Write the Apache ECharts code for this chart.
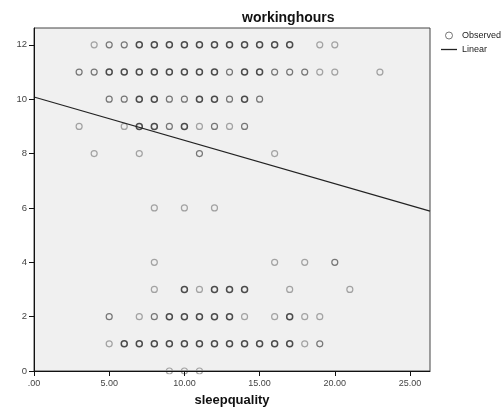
<!DOCTYPE html>
<html>
<head>
<meta charset="utf-8">
<script src="https://cdn.jsdelivr.net/npm/echarts@6/dist/echarts.min.js"></script>
<style>html,body{margin:0;padding:0;background:#fff;}#c{width:504px;height:412px;}</style>
</head>
<body>
<div id="c"></div>
<script>
// sleepquality values observed at each workinghours level, with overlap level (1 = single, 3 = many)
const wh12X = [4,5,6,7,8,9,10,11,12,13,14,15,16,17,19,20];
const wh12N = [1,2,2,3,3,3,3,3,3,3,3,3,3,3,1,1];
const wh11X = [3,4,5,6,7,8,9,10,11,12,13,14,15,16,17,18,19,20,23];
const wh11N = [2,2,3,3,3,3,3,3,3,3,2,3,3,2,2,2,1,1,1];
const wh10X = [5,6,7,8,9,10,11,12,13,14,15];
const wh10N = [2,2,3,3,2,2,3,3,2,3,2];
const wh9X = [3,6,7,8,9,10,11,12,13,14];
const wh9N = [1,1,3,3,2,3,1,2,1,2];
const wh8X = [4,7,11,16];
const wh8N = [1,1,2,1];
const wh6X = [8,10,12];
const wh6N = [1,1,1];
const wh4X = [8,16,18,20];
const wh4N = [1,1,1,2];
const wh3X = [8,10,11,12,13,14,17,21];
const wh3N = [1,3,1,3,3,3,1,1];
const wh2X = [5,7,8,9,10,11,12,13,14,16,17,18,19];
const wh2N = [2,1,2,3,3,3,3,3,1,1,3,1,1];
const wh1X = [5,6,7,8,9,10,11,12,13,14,15,16,17,18,19];
const wh1N = [1,3,3,3,3,3,3,3,3,3,3,3,3,1,2];
const wh0X = [9,10,11];
const wh0N = [1,1,1];

const rows = [
  [12, wh12X, wh12N], [11, wh11X, wh11N], [10, wh10X, wh10N], [9, wh9X, wh9N],
  [8, wh8X, wh8N], [6, wh6X, wh6N], [4, wh4X, wh4N], [3, wh3X, wh3N],
  [2, wh2X, wh2N], [1, wh1X, wh1N], [0, wh0X, wh0N]
];

// fitted linear line endpoints (sleepquality, workinghours)
const linearX = [0, 26.33];
const linearY = [10.08, 5.88];

const xTicks = [0, 5, 10, 15, 20, 25];
const yTicks = [0, 2, 4, 6, 8, 10, 12];
const xMax = 26.33;
const yMax = 12.62;

const shade = {1: '#8e8e8e', 2: '#585858', 3: '#222222'};
const observed = [];
rows.forEach(([y, xs, ns]) => {
  xs.forEach((x, i) => {
    observed.push({ value: [x, y], itemStyle: { color: 'rgba(0,0,0,0)', borderColor: shade[ns[i]], borderWidth: ns[i] === 3 ? 1.5 : 1.2 } });
  });
});

const font = 'Liberation Sans, Arial, sans-serif';
const chart = echarts.init(document.getElementById('c'), null, { renderer: 'canvas' });
chart.setOption({
  animation: false,
  backgroundColor: '#ffffff',
  title: {
    text: 'workinghours',
    left: 242, top: 11, padding: 0,
    textStyle: { fontFamily: font, fontSize: 14, fontWeight: 'bold', color: '#111' }
  },
  legend: {
    orient: 'vertical', left: 441, top: 31, padding: 0,
    itemWidth: 16, itemHeight: 7, itemGap: 5,
    textStyle: { fontFamily: font, fontSize: 9, color: '#222' },
    data: [
      { name: 'Observed', icon: 'circle', itemStyle: { color: 'rgba(0,0,0,0)', borderColor: '#555', borderWidth: 1 } },
      { name: 'Linear', icon: 'path://M0,0 L16,0 L16,1.3 L0,1.3 Z', itemStyle: { color: '#222', borderWidth: 0 } }
    ]
  },
  grid: {
    left: 34, right: 74, top: 28, bottom: 38,
    show: true, backgroundColor: '#f0f0f0', borderColor: '#444', borderWidth: 1
  },
  xAxis: {
    type: 'value', min: 0, max: xMax, z: 10,
    name: 'sleepquality', nameLocation: 'middle', nameGap: 23,
    nameTextStyle: { fontFamily: font, fontSize: 13, fontWeight: 'bold', color: '#111' },
    axisLine: { show: true, onZero: false, lineStyle: { color: '#111', width: 1 } },
    axisTick: { show: true, length: 5, customValues: xTicks, lineStyle: { color: '#111' } },
    axisLabel: {
      customValues: xTicks, margin: 8, fontFamily: font, fontSize: 9, color: '#444',
      formatter: v => (v === 0 ? '.00' : v.toFixed(2))
    },
    splitLine: { show: false }
  },
  yAxis: {
    type: 'value', min: 0, max: yMax, z: 10,
    axisLine: { show: true, onZero: false, lineStyle: { color: '#111', width: 1 } },
    axisTick: { show: true, length: 5, customValues: yTicks, lineStyle: { color: '#111' } },
    axisLabel: { customValues: yTicks, margin: 7, fontFamily: font, fontSize: 9.5, color: '#444' },
    splitLine: { show: false }
  },
  graphic: [
    { type: 'rect', z: 5, shape: { x: 35, y: 374.5, width: 395, height: 5 }, style: { fill: '#ffffff' } }
  ],
  series: [
    {
      name: 'Observed', type: 'scatter', symbol: 'circle', symbolSize: 6, z: 2,
      itemStyle: { color: 'rgba(0,0,0,0)', borderColor: '#555', borderWidth: 1.2 },
      data: observed
    },
    {
      name: 'Linear', type: 'line', symbol: 'none', z: 3,
      lineStyle: { color: '#222', width: 1.2 },
      itemStyle: { color: '#222' },
      data: linearX.map((x, i) => [x, linearY[i]])
    }
  ]
});
</script>
</body>
</html>
